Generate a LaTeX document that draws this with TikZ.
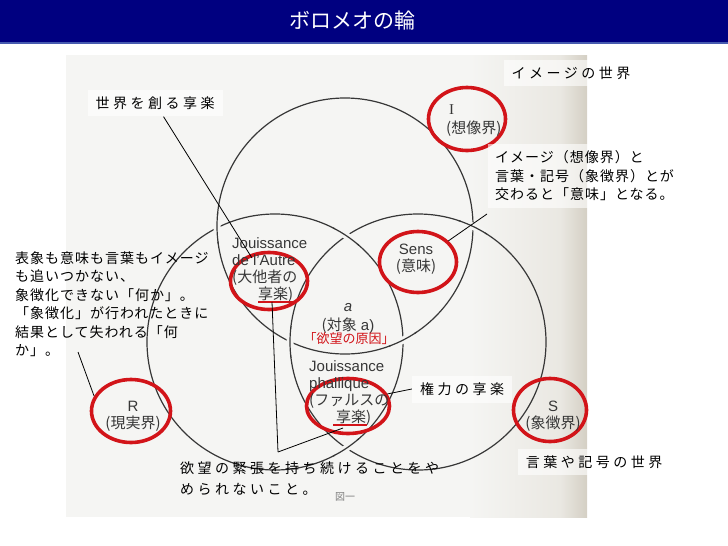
\documentclass[tikz,border=0pt]{standalone}
\usepackage{fontspec}
\setmainfont{Liberation Sans}
\newfontfamily\jp{Noto Sans CJK JP}
\newfontfamily\jpsp[LetterSpace=7]{Noto Sans CJK JP}
\newfontfamily\jpwide[LetterSpace=25]{Noto Sans CJK JP}
\newfontfamily\romanI{Liberation Serif}
\usetikzlibrary{shapes.geometric}
\definecolor{navy}{RGB}{0,0,128}
\definecolor{barline}{RGB}{70,90,175}
\definecolor{ringred}{RGB}{210,20,25}
\definecolor{ink}{RGB}{55,55,55}
\definecolor{paper}{RGB}{245,245,243}
\definecolor{paperdim}{RGB}{234,232,226}
\definecolor{shadow}{RGB}{212,207,196}

\begin{document}
\begin{tikzpicture}[x=1pt,y=-1pt,
  ring/.style={draw=ink, line width=1.2pt},
  red node/.style={draw=ringred, line width=3.6pt, ellipse, inner sep=0pt},
  book node/.style={text=ink, font=\fontsize{15}{17}\selectfont, align=left, inner sep=0pt},
  note node/.style={font=\jpsp\fontsize{14}{18.5}\selectfont, align=left, inner sep=7pt, fill=white, fill opacity=0.6, text opacity=1},
  tag node/.style={font=\jpwide\fontsize{14}{21}\selectfont, align=left, fill=white, fill opacity=0.6, text opacity=1, inner xsep=8pt, inner ysep=7pt},
  pointer/.style={draw=black, line width=0.8pt}]

\useasboundingbox (0,0) rectangle (728,546);
\fill[navy] (0,0) rectangle (728,43);
\draw[barline, line width=1.5pt] (0,43) -- (728,43);
\node[text=white, font=\jp\fontsize{21}{21}\selectfont] (title) at (352,21) {ボロメオの輪};

\fill[paper] (66,55) rectangle (587,517);
\shade[left color=paper, right color=paperdim] (470,55) rectangle (560,517);
\shade[left color=paperdim, right color=shadow] (560,55) rectangle (587,517);

\draw[ring] (345,226) circle[radius=128];
\draw[ring] (275,342) circle[radius=128];
\draw[ring] (418,342) circle[radius=128];
\foreach \cx/\cy/\ang in {345/226/179, 345/226/63, 275/342/-56, 275/342/56, 418/342/-64.5, 418/342/180}{
  \draw[paper, line width=7pt] (\cx,\cy) ++(\ang-6:128) arc[start angle=\ang-6, end angle=\ang+6, radius=128];
  \draw[ring] (\cx,\cy) ++(\ang-7:128) arc[start angle=\ang-7, end angle=\ang+7, radius=128];
}

\node[red node, minimum width=77, minimum height=63] (imag) at (467,119) {};
\node[red node, minimum width=77, minimum height=61] (sens) at (418,262) {};
\node[red node, minimum width=77, minimum height=57] (autre) at (269,281) {};
\node[red node, minimum width=83, minimum height=55] (phall) at (348,406) {};
\node[red node, minimum width=79, minimum height=63] (real) at (131,411) {};
\node[red node, minimum width=73, minimum height=63] (symb) at (550,410) {};

\node[book node, anchor=west] (imagtxt) at (446,121) {\hspace*{3pt}{\romanI I}\\[2pt]{\jp (想像界)}};
\node[book node, align=center] (senstxt) at (416,259) {Sens\\{\jp (意味)}};
\node[book node, anchor=west] (autretxt) at (232,270) {Jouissance\\de l’Autre\\{\jp (大他者の}\\\hspace*{26pt}{\jp 享楽)}};
\node[text=ink, font=\itshape\fontsize{15}{15}\selectfont] (atxt) at (348,308) {a};
\node[book node] (objtxt) at (348,326) {{\jp (対象} a)};
\node[text=ringred, font=\jp\fontsize{13}{13}\selectfont, inner sep=0pt] (causetxt) at (349,339) {「欲望の原因」};
\node[book node, anchor=west] (phalltxt) at (309,393) {Jouissance\\phallique\\{\jp (ファルスの}\\\hspace*{27pt}{\jp 享楽)}};
\node[book node, align=center] (realtxt) at (133,416) {R\\{\jp (現実界)}};
\node[book node, align=center] (symbtxt) at (553,416) {S\\{\jp (象徴界)}};
\node[text=gray, font=\jp\fontsize{10}{10}\selectfont] (fig) at (345,497) {図一};

\draw[ringred, line width=2pt] (258,302) -- (293,302);
\draw[ringred, line width=2pt] (333,425) -- (367,425);

\node[tag node] (worldjoy) at (155,103) {世界を創る享楽};
\node[tag node] (imagworld) at (571,73) {イメージの世界};
\node[note node, anchor=west] (meaning) at (488,176) {イメージ（想像界）と\\言葉・記号（象徴界）とが\\交わると「意味」となる。};
\node[note node, anchor=west, fill opacity=0] (nothing) at (8,304) {表象も意味も言葉もイメージ\\も追いつかない、\\象徴化できない「何か」。\\「象徴化」が行われたときに\\結果として失われる「何\\か」。};
\node[tag node] (power) at (462,389) {権力の享楽};
\node[tag node] (wordworld) at (594,462) {言葉や記号の世界};
\node[tag node, anchor=west, fill opacity=0] (tension) at (172,479) {欲望の緊張を持ち続けることをや\\められないこと。};

\coordinate (autretip) at (252,258);
\coordinate (senstip) at (487,214);
\coordinate (realtip) at (78,352);
\coordinate (autreul) at (272,302);
\coordinate (phallul) at (343,428);
\coordinate (tensionv) at (278,452);
\path[pointer] (worldjoy) edge (autretip)
  (sens) edge (senstip)
  (real.158) edge (realtip)
  (power.west) edge (phall.17)
  (autreul) edge (tensionv)
  (tensionv) edge (phallul);
\end{tikzpicture}
\end{document}
